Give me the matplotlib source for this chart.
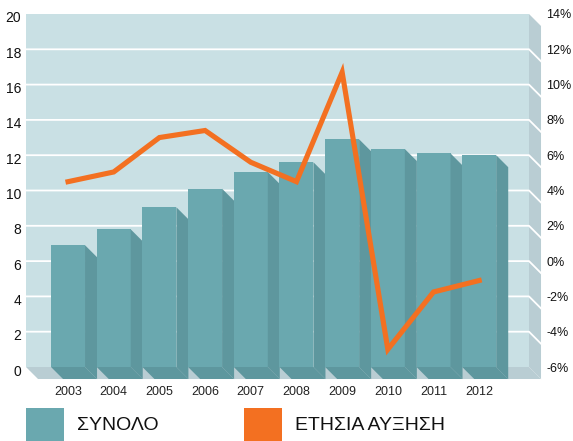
import matplotlib
matplotlib.use("Agg")
from matplotlib import pyplot as plt
from matplotlib.patches import Polygon, Rectangle
import matplotlib.transforms as mtransforms
import numpy as np

# данные
years = ["2003", "2004", "2005", "2006", "2007", "2008", "2009", "2010", "2011", "2012"]
total = [6.9, 7.8, 9.05, 10.1, 11.05, 11.6, 12.9, 12.35, 12.1, 12.0]
growth = [4.5, 5.05, 7.0, 7.4, 5.6, 4.5, 10.7, -5.0, -1.75, -1.1]
left_ticks = [0, 2, 4, 6, 8, 10, 12, 14, 16, 18, 20]
right_ticks = [-6, -4, -2, 0, 2, 4, 6, 8, 10, 12, 14]
legend_labels = ["ΣΥΝΟΛΟ", "ΕΤΗΣΙΑ ΑΥΞΗΣΗ"]

wall = "#c9e0e4"
side = "#b9cdd3"
front = "#6aa8af"
dark = "#5e979e"
orange = "#f37021"
plt.rcParams["font.family"] = ["Liberation Sans", "DejaVu Sans"]

W, H = 573, 441
fig = plt.figure(figsize=(W / 100, H / 100), dpi=100)
ax = fig.add_axes([26 / W, (H - 367) / H, 503 / W, 353 / H])

xl, xr = -0.92, 10.09
dx, dy = 0.263, 0.68   # глубина "3D"
w = 0.744

ax.set_xlim(xl, xr)
ax.set_ylim(0, 20)
ax.set_facecolor(wall)
for s in ax.spines.values():
    s.set_visible(False)

# пол и боковая стенка
ax.add_patch(Polygon([(xl, 0), (xr, 0), (xr + dx, -dy), (xl + dx, -dy)],
                     facecolor=side, edgecolor="none", clip_on=False, zorder=0.5))
ax.add_patch(Polygon([(xr, 20), (xr + dx, 20 - dy), (xr + dx, -dy), (xr, 0)],
                     facecolor=side, edgecolor="none", clip_on=False, zorder=0.5))

# сетка
for v in left_ticks[1:-1]:
    ax.plot([xl, xr, xr + dx], [v, v, v - dy], color="white", lw=1.3,
            clip_on=False, zorder=1)

# столбики
x = np.arange(len(years))
for xi, h in zip(x, total):
    x0, x1 = xi - w / 2, xi + w / 2
    ax.add_patch(Rectangle((x0, 0), w, h, facecolor=front, edgecolor="none", zorder=2))
    ax.add_patch(Polygon([(x1, h), (x1 + dx, h - dy), (x1 + dx, -dy), (x1, 0)],
                         facecolor=dark, edgecolor="none", clip_on=False, zorder=2))
    ax.add_patch(Polygon([(x0, 0), (x1, 0), (x1 + dx, -dy), (x0 + dx, -dy)],
                         facecolor=dark, edgecolor="none", clip_on=False, zorder=2))

ax.set_xticks(x)
ax.set_xticklabels(years)
ax.set_yticks(left_ticks)
ax.tick_params(axis="x", length=0, pad=14, labelsize=9, colors="#222222")
ax.tick_params(axis="y", length=0, pad=3.5, labelsize=10, colors="#111111")
off = mtransforms.ScaledTranslation(0, -3 / 100, fig.dpi_scale_trans)
for lab in ax.get_yticklabels():
    lab.set_transform(lab.get_transform() + off)

# линия роста
ax2 = ax.twinx()
ax2.set_ylim(-6, 14)
ax2.set_yticks(right_ticks)
ax2.set_yticklabels([f"{t}%" for t in right_ticks])
ax2.tick_params(axis="y", length=0, pad=12.5, labelsize=9, colors="#111111")
for s in ax2.spines.values():
    s.set_visible(False)
ax2.plot(x, growth, color=orange, lw=3.7, solid_joinstyle="miter", zorder=5)

# легенда
fig.add_artist(Rectangle((26 / W, 0), 38 / W, 33 / H, transform=fig.transFigure,
                         facecolor=front, edgecolor="none"))
fig.text(77 / W, (H - 425) / H, legend_labels[0], fontsize=14, va="center", color="#111111")
fig.add_artist(Rectangle((244 / W, 0), 38 / W, 33 / H, transform=fig.transFigure,
                         facecolor=orange, edgecolor="none"))
fig.text(295 / W, (H - 425) / H, legend_labels[1], fontsize=14, va="center", color="#111111")

plt.savefig("out.png", dpi=100)
